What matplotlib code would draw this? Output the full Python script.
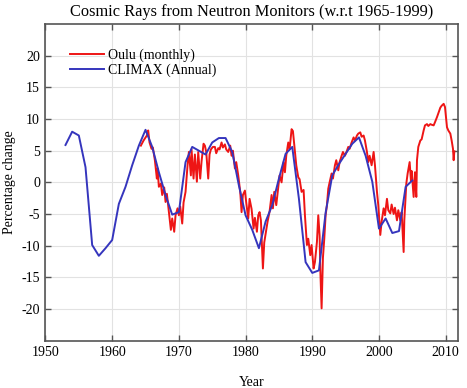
import matplotlib
matplotlib.use('Agg')
import matplotlib.pyplot as plt

plt.rcParams.update({
    'font.family': ['Liberation Serif', 'DejaVu Serif'],
    'font.size': 10,
    'axes.unicode_minus': False,
    'xtick.direction': 'in',
    'ytick.direction': 'in',
    'xtick.top': True,
    'ytick.right': True,
})

# CLIMAX annual means (% change w.r.t. 1965-1999)
climax_year = [1953, 1954, 1955, 1956, 1957, 1958, 1959, 1960, 1961, 1962,
               1963, 1964, 1965, 1966, 1967, 1968, 1969, 1970, 1971, 1972,
               1973, 1974, 1975, 1976, 1977, 1978, 1979, 1980, 1981, 1982,
               1983, 1984, 1985, 1986, 1987, 1988, 1989, 1990, 1991, 1992,
               1993, 1994, 1995, 1996, 1997, 1998, 1999, 2000, 2001, 2002,
               2003, 2004, 2005]
climax_val = [5.9, 8.0, 7.4, 2.4, -9.9, -11.6, -10.4, -9.1, -3.4, -0.7,
              2.7, 5.8, 8.3, 5.6, 1.6, -2.0, -5.1, -4.7, 3.2, 5.6,
              5.0, 4.4, 6.3, 7.0, 7.0, 4.8, -0.5, -5.2, -7.5, -10.4,
              -6.2, -3.6, 0.6, 4.5, 5.6, -2.6, -12.6, -14.3, -13.9, -4.8,
              1.1, 2.9, 4.5, 6.1, 7.1, 4.2, 0.1, -7.3, -5.7, -8.0,
              -7.7, -0.7, 0.3]

oulu_year = [1964.3, 1964.7, 1965.2, 1965.4, 1965.6, 1965.9, 1966.1, 1966.4, 1966.7, 1966.8,
             1967.0, 1967.3, 1967.5, 1967.8, 1968.0, 1968.2, 1968.5, 1968.8, 1969.0, 1969.3,
             1969.5, 1969.8, 1970.0, 1970.2, 1970.5, 1970.7, 1971.0, 1971.3, 1971.5, 1971.8,
             1971.9, 1972.2, 1972.4, 1972.7, 1972.9, 1973.2, 1973.4, 1973.7, 1973.9, 1974.1,
             1974.4, 1974.6, 1974.8, 1975.1, 1975.4, 1975.6, 1975.9, 1976.1, 1976.4, 1976.6,
             1976.9, 1977.1, 1977.4, 1977.7, 1977.9, 1978.1, 1978.4, 1978.6, 1978.9, 1979.2,
             1979.4, 1979.6, 1979.9, 1980.1, 1980.4, 1980.6, 1980.9, 1981.2, 1981.4, 1981.7,
             1981.9, 1982.1, 1982.3, 1982.6, 1982.8, 1983.0, 1983.3, 1983.6, 1983.9, 1984.1,
             1984.3, 1984.6, 1984.9, 1985.1, 1985.4, 1985.7, 1985.9, 1986.1, 1986.4, 1986.6,
             1986.9, 1987.1, 1987.4, 1987.6, 1987.9, 1988.1, 1988.4, 1988.7, 1988.9, 1989.2,
             1989.4, 1989.7, 1989.9, 1990.2, 1990.4, 1990.7, 1990.9, 1991.1, 1991.2, 1991.4,
             1991.6, 1991.8, 1992.0, 1992.2, 1992.4, 1992.6, 1992.9, 1993.1, 1993.4, 1993.6,
             1993.9, 1994.1, 1994.4, 1994.6, 1994.9, 1995.2, 1995.4, 1995.6, 1995.9, 1996.2,
             1996.4, 1996.7, 1996.9, 1997.2, 1997.4, 1997.7, 1997.9, 1998.2, 1998.4, 1998.6,
             1998.9, 1999.2, 1999.4, 1999.7, 1999.9, 2000.2, 2000.4, 2000.7, 2000.9, 2001.2,
             2001.4, 2001.7, 2001.9, 2002.2, 2002.4, 2002.7, 2002.9, 2003.2, 2003.4, 2003.7,
             2003.8, 2004.1, 2004.3, 2004.6, 2004.8, 2004.9, 2005.2, 2005.4, 2005.6, 2005.7,
             2005.9, 2006.2, 2006.4, 2006.7, 2006.9, 2007.2, 2007.4, 2007.7, 2007.9, 2008.2,
             2008.4, 2008.7, 2008.9, 2009.2, 2009.4, 2009.7, 2009.9, 2010.2, 2010.4, 2010.7,
             2010.9, 2011.1, 2011.2, 2011.3]
oulu_val = [5.8, 6.6, 7.4, 8.2, 6.3, 5.3, 5.5, 3.5, 0.6, 2.2,
            -0.7, -0.2, -2.0, -0.8, -3.1, -1.8, -4.7, -7.5, -5.7, -7.8,
            -5.2, -4.1, -5.2, -3.8, -6.5, -3.2, -1.5, 2.7, 4.8, 1.1,
            5.2, 0.6, 4.4, 0.1, 4.8, 0.6, 3.3, 6.1, 5.8, 4.8,
            0.6, 4.4, 5.2, 5.6, 5.6, 4.6, 5.4, 5.2, 6.3, 5.5,
            6.0, 5.2, 4.8, 5.8, 4.2, 5.0, 2.2, 3.2, 1.1, -1.5,
            -4.7, -2.0, -1.3, -3.2, -5.7, -2.6, -4.2, -7.3, -5.6, -7.8,
            -5.2, -4.7, -6.0, -13.6, -9.5, -8.2, -6.2, -4.6, -2.0, -4.1,
            -1.5, -3.6, -0.7, 1.1, 0.0, 3.2, 1.6, 4.2, 6.3, 5.2,
            8.4, 8.1, 4.8, 2.7, 0.8, 0.5, -1.5, -1.2, -5.2, -9.9,
            -8.9, -11.5, -9.9, -13.6, -12.6, -9.4, -5.2, -8.4, -13.6, -19.9,
            -11.9, -8.9, -5.2, -3.6, -1.0, 0.0, 1.4, 0.6, 2.7, 3.5,
            1.9, 3.2, 4.2, 4.8, 4.2, 5.0, 5.6, 5.3, 6.3, 7.1,
            6.6, 7.4, 7.7, 7.9, 7.2, 7.4, 6.6, 4.8, 3.2, 4.2,
            2.7, 4.8, 2.7, -1.5, -3.6, -8.3, -6.2, -4.1, -5.2, -2.6,
            -4.4, -4.9, -3.5, -5.0, -4.0, -6.0, -4.4, -6.0, -4.7, -11.0,
            -6.0, -0.2, 1.4, 3.2, 0.2, 1.8, -2.3, 1.6, -2.3, 3.5,
            5.6, 6.6, 6.8, 8.2, 9.0, 9.2, 8.9, 9.2, 9.1, 9.0,
            9.5, 10.3, 10.9, 11.8, 12.1, 12.4, 11.9, 8.7, 8.2, 7.7,
            6.6, 5.3, 3.5, 4.9]

fig = plt.figure(figsize=(4.67, 3.88), dpi=100)
ax = fig.add_axes([0.0974, 0.122, 0.8826, 0.816])

ax.plot(oulu_year, oulu_val, color='#ee1515', lw=1.4, label='Oulu (monthly)')
ax.plot(climax_year, climax_val, color='#3535bd', lw=1.4, label='CLIMAX (Annual)')

ax.set_xlim(1950, 2011.8)
ax.set_ylim(-25, 25)
ax.set_xticks(range(1950, 2011, 10))
ax.set_yticks(range(-20, 21, 5))
ax.grid(True, color='#e2e2e2', lw=0.8)
ax.set_axisbelow(True)
for s in ax.spines.values():
    s.set_color('#555555')
    s.set_linewidth(1.2)
ax.tick_params(length=4, width=1, color='#555555', labelsize=10, pad=4)

ax.set_title('Cosmic Rays from Neutron Monitors (w.r.t 1965-1999)', fontsize=11.8, pad=6)
ax.set_xlabel('Year', fontsize=10, labelpad=12)
ax.set_ylabel('Percentage change', fontsize=10, labelpad=4)

ax.legend(loc='upper left', bbox_to_anchor=(0.04, 0.95), frameon=False,
          fontsize=10, handlelength=2.4, labelspacing=0.1, borderaxespad=0.2,
          handletextpad=0.3)

fig.savefig('out.png', dpi=100)
